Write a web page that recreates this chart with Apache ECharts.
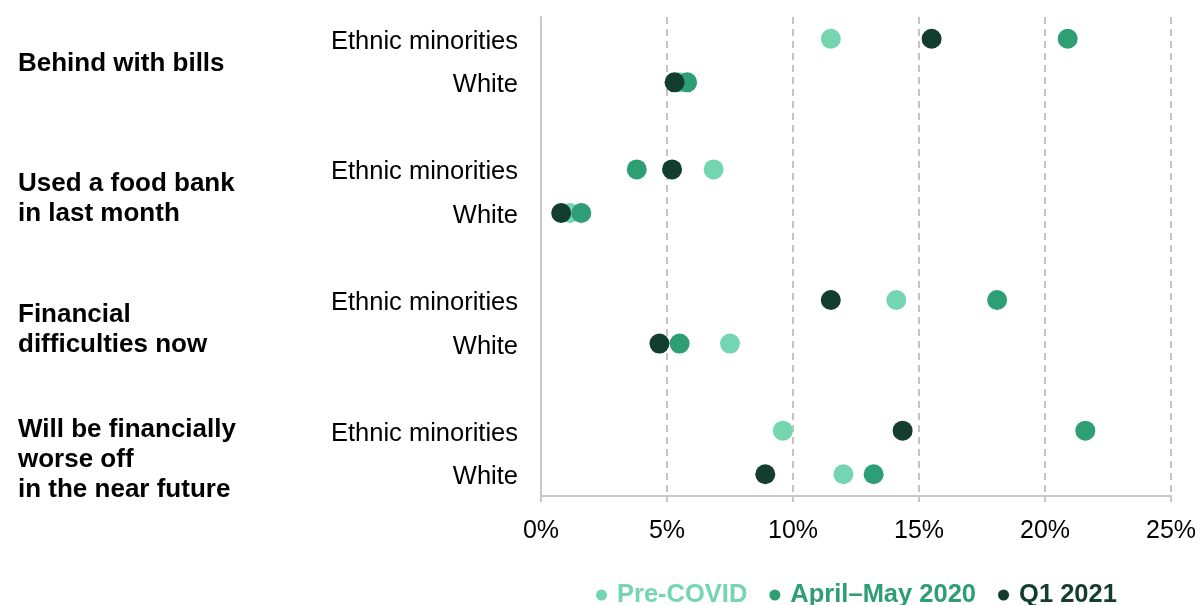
<!DOCTYPE html>
<html>
<head>
<meta charset="utf-8">
<script src="https://cdn.jsdelivr.net/npm/echarts@6/dist/echarts.min.js"></script>
<style>html,body{margin:0;padding:0;background:#fff}#c{width:1203px;height:605px}</style>
</head>
<body>
<div id="c"></div>
<script>
// ---- data ----
var groupLabels = ['Behind with bills', 'Used a food bank\nin last month', 'Financial\ndifficulties now', 'Will be financially\nworse off\nin the near future'];
var rowLabels = ['Ethnic minorities', 'White'];
var seriesNames = ['Pre-COVID', 'April\u2013May 2020', 'Q1 2021'];
var preCovidEM = [11.5, 6.85, 14.1, 9.6];
var preCovidWhite = [5.5, 1.15, 7.5, 12.0];
var aprMayEM = [20.9, 3.8, 18.1, 21.6];
var aprMayWhite = [5.8, 1.6, 5.5, 13.2];
var q1EM = [15.5, 5.2, 11.5, 14.35];
var q1White = [5.3, 0.8, 4.7, 8.9];
var xTicks = [0, 5, 10, 15, 20, 25];
var colors = ['#74d6b0', '#2e9e74', '#133d2e'];

// ---- build categories (pairs separated by a blank slot) ----
var cats = [], catLabel = {};
groupLabels.forEach(function (g, i) {
  if (i > 0) { cats.push('gap' + i); catLabel['gap' + i] = ''; }
  cats.push('em' + i); catLabel['em' + i] = rowLabels[0];
  cats.push('w' + i); catLabel['w' + i] = rowLabels[1];
});
function build(em, w) {
  var out = [];
  em.forEach(function (v, i) { out.push([v, cats.indexOf('em' + i)]); });
  w.forEach(function (v, i) { out.push([w[i], cats.indexOf('w' + i)]); });
  return out;
}
var seriesData = [build(preCovidEM, preCovidWhite), build(aprMayEM, aprMayWhite), build(q1EM, q1White)];

var FONT = '"Liberation Sans", Arial, sans-serif';
var chart = echarts.init(document.getElementById('c'), null, { renderer: 'canvas' });
var option = {
  animation: false,
  backgroundColor: '#fff',
  textStyle: { fontFamily: FONT },
  grid: { left: 541, right: 32, top: 17, bottom: 109, containLabel: false },
  xAxis: {
    type: 'value', min: xTicks[0], max: xTicks[xTicks.length - 1], interval: 5,
    axisLine: { show: true, lineStyle: { color: '#c8c8c8', width: 2 } },
    axisTick: { show: true, length: 6, lineStyle: { color: '#c8c8c8', width: 2 } },
    axisLabel: { formatter: '{value}%', color: '#000', fontSize: 25, fontFamily: FONT, margin: 23 },
    splitLine: { show: true, lineStyle: { color: '#c4c4c4', width: 2, type: [7, 5] } }
  },
  yAxis: {
    type: 'category', data: cats, inverse: true,
    axisLine: { show: true, lineStyle: { color: '#c8c8c8', width: 2 } },
    axisTick: { show: false },
    splitLine: { show: false },
    axisLabel: { interval: 0, color: '#000', fontSize: 25.5, fontFamily: FONT, margin: 23,
      formatter: function (v) { return catLabel[v] ? '{a|' + catLabel[v] + '}' : ''; },
      rich: { a: { fontSize: 25.5, fontFamily: FONT, color: '#000', padding: [6, 0, 0, 0] } } }
  },
  legend: {
    left: 591, top: 577,
    icon: 'circle', itemWidth: 11, itemHeight: 11, itemGap: 22,
    data: seriesNames.map(function (n, i) {
      return { name: n, textStyle: { color: colors[i], fontWeight: 'bold', fontSize: 25.5, fontFamily: FONT, padding: [0, 0, 0, 5] } };
    }),
    textStyle: { fontWeight: 'bold', fontSize: 25.5, fontFamily: FONT }
  },
  series: seriesNames.map(function (n, i) {
    return {
      name: n, type: 'scatter', data: seriesData[i], symbol: 'circle', symbolSize: 20,
      itemStyle: { color: colors[i], opacity: 1 }, z: 2 + i
    };
  })
};
chart.setOption(option);

// group labels placed by converting category positions through the axis
var graphics = groupLabels.map(function (g, i) {
  var y1 = chart.convertToPixel({ yAxisIndex: 0 }, 'em' + i);
  var y2 = chart.convertToPixel({ yAxisIndex: 0 }, 'w' + i);
  var n = g.split('\n').length;
  var off = n === 1 ? 3 : (n === 2 ? 8 : 7);
  return {
    type: 'text', left: 18, top: (y1 + y2) / 2 + off - (n * 30) / 2,
    style: { text: g, fontSize: 26, fontWeight: 'bold', fontFamily: FONT, fill: '#000', lineHeight: 30 }
  };
});
chart.setOption({ graphic: graphics });
</script>
</body>
</html>
